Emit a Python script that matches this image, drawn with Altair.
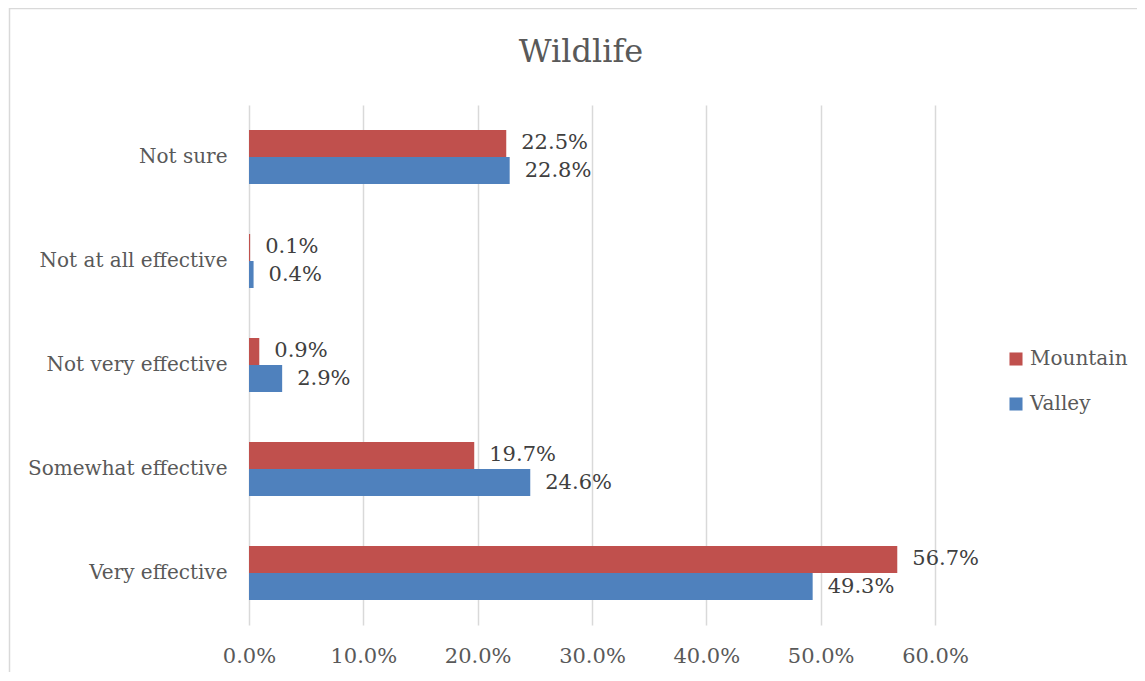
import altair as alt
import pandas as pd

categories = ["Not sure", "Not at all effective", "Not very effective", "Somewhat effective", "Very effective"]
mountain = [0.225, 0.001, 0.009, 0.197, 0.567]
valley = [0.228, 0.004, 0.029, 0.246, 0.493]
series = ["Mountain", "Valley"]
colors = ["#C0504D", "#4F81BD"]
x_ticks = [0, 0.1, 0.2, 0.3, 0.4, 0.5, 0.6]
title_text = ["Wildlife"]

rows = []
for c, m, v in zip(categories, mountain, valley):
    rows.append({"category": c, "series": "Mountain", "value": m})
    rows.append({"category": c, "series": "Valley", "value": v})
df = pd.DataFrame(rows)

FONT = "DejaVu Serif"

y_enc = alt.Y("category:N", sort=categories, title=None,
              scale=alt.Scale(paddingInner=0.48, paddingOuter=0.24),
              axis=alt.Axis(ticks=False, domain=False, labelPadding=22, labelLimit=400,
                            labelFontSize=20, labelColor="#595959", labelFont=FONT))
x_enc = alt.X("value:Q", title=None,
              scale=alt.Scale(domain=[0, 0.6], nice=False),
              axis=alt.Axis(values=x_ticks, format=".1%", ticks=False, domain=False,
                            grid=True, gridColor="#d9d9d9", gridWidth=1.5,
                            labelFlush=False, labelPadding=20, labelFontSize=21,
                            labelColor="#595959", labelFont=FONT))
yoff = alt.YOffset("series:N", sort=series, scale=alt.Scale(paddingInner=0, paddingOuter=0))

base = alt.Chart(df)

bars = base.mark_bar(size=27).encode(
    y=y_enc, x=x_enc, yOffset=yoff,
    color=alt.Color("series:N", sort=series,
                    scale=alt.Scale(domain=series, range=colors),
                    legend=alt.Legend(title=None, orient="none", legendX=757, legendY=244,
                                      symbolType="square", symbolSize=170,
                                      symbolStrokeWidth=0, labelFontSize=20,
                                      labelFont=FONT, labelColor="#595959",
                                      rowPadding=25, labelOffset=4)),
)

labels = base.mark_text(align="left", baseline="middle", dx=15, fontSize=21,
                        font=FONT, color="#404040").encode(
    y=alt.Y("category:N", sort=categories), x="value:Q", yOffset=yoff,
    text=alt.Text("value:Q", format=".1%"),
)

border = alt.Chart(alt.Data(values=[{}])).mark_rect(
    fill=None, stroke="#d9d9d9", strokeWidth=1.5
).encode(x=alt.value(-239.5), x2=alt.value(1200), y=alt.value(-96.5), y2=alt.value(800))

title = alt.Chart(alt.Data(values=[{"t": t} for t in title_text])).mark_text(
    fontSize=32, font=FONT, color="#595959", align="center", baseline="middle"
).encode(x=alt.value(332), y=alt.value(-53), text="t:N")

chart = alt.layer(border, title, bars, labels).properties(
    width=686, height=520,
    autosize=alt.AutoSizeParams(type="none"),
    padding={"left": 241, "top": 97, "right": 202, "bottom": 47},
).configure_view(stroke=None).configure_axis(labelFontWeight="normal")

chart.save("out.html", embed_options={"renderer": "svg", "actions": False})
